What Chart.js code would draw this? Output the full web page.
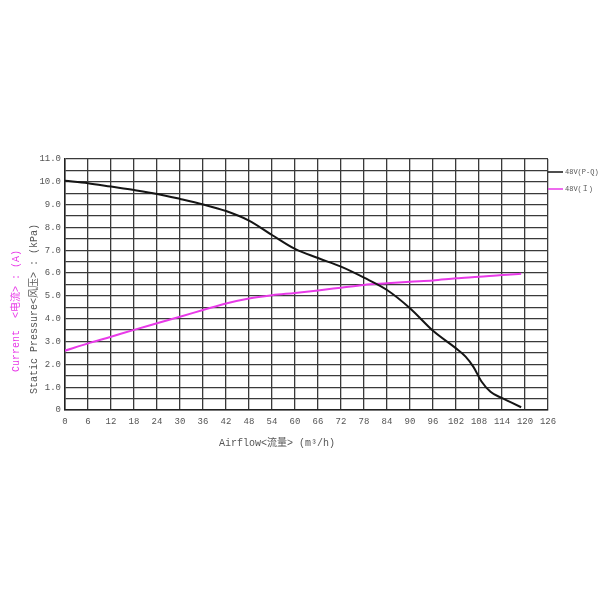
<!DOCTYPE html>
<html>
<head>
<meta charset="utf-8">
<script src="https://cdn.jsdelivr.net/npm/chart.js@4.4.1/dist/chart.umd.min.js"></script>
<style>
html,body{margin:0;padding:0;background:#fff;}
#wrap{width:600px;height:600px;}
</style>
</head>
<body>
<div id="wrap"><canvas id="c" width="600" height="600"></canvas></div>
<script>
// ---- data ----
const pqAirflow = [0, 6, 12, 18, 24, 30, 36, 42, 48, 54, 60, 66, 72, 78, 84, 90, 96, 102, 104.5, 106.5, 108.7, 111, 113.5, 116.5, 119];
const pqPressure = [10.05, 9.94, 9.79, 9.64, 9.47, 9.25, 9.01, 8.72, 8.30, 7.67, 7.06, 6.66, 6.28, 5.80, 5.26, 4.46, 3.47, 2.70, 2.34, 1.90, 1.24, 0.80, 0.56, 0.32, 0.12];
const iAirflow = [0, 6, 12, 18, 24, 30, 36, 42, 48, 54, 60, 66, 72, 78, 84, 90, 96, 102, 108, 114, 119];
const iCurrent = [2.60, 2.92, 3.21, 3.51, 3.80, 4.09, 4.38, 4.67, 4.89, 5.03, 5.13, 5.24, 5.36, 5.48, 5.55, 5.62, 5.68, 5.77, 5.84, 5.92, 5.97];
const seriesLabels = ['48V(P-Q)', '48V(Ｉ)'];
const xTitle = 'Airflow<流量> (m³/h)';
const yTitleCurrent = 'Current  <电流> : (A)';
const yTitlePressure = 'Static Pressure<风压> : (kPa)';
const xMin = 0, xMax = 126, xStep = 6;
const yMin = 0, yMax = 11, yStep = 0.5;

const FONT = "'Liberation Mono', 'Noto Sans CJK SC', monospace";
const BLACK = '#151515';
const MAGENTA = '#e83ae8';
const TEXT = '#555555';

function toPts(xs, ys){ return xs.map((x,i)=>({x:x, y:ys[i]})); }

const overlay = {
  id: 'overlay',
  afterDraw(chart){
    const ctx = chart.ctx;
    const a = chart.chartArea;
    ctx.save();
    // legend
    const ds = chart.data.datasets;
    const ly = [a.top + 13, a.top + 30];
    ctx.font = "7px " + FONT;
    ctx.textBaseline = 'middle';
    ctx.textAlign = 'left';
    ds.forEach((d, i) => {
      ctx.strokeStyle = d.borderColor;
      ctx.lineWidth = 1.5;
      ctx.beginPath();
      ctx.moveTo(a.right, ly[i]);
      ctx.lineTo(a.right + 15, ly[i]);
      ctx.stroke();
      ctx.fillStyle = TEXT;
      ctx.fillText(d.label, a.right + 17, ly[i]);
    });
    // x title
    ctx.font = "10px " + FONT;
    ctx.fillStyle = TEXT;
    ctx.textAlign = 'center';
    ctx.fillText(xTitle, 277, 443);
    // y titles
    ctx.save();
    ctx.translate(16, 311);
    ctx.rotate(-Math.PI/2);
    ctx.fillStyle = MAGENTA;
    ctx.fillText(yTitleCurrent, 0, 0);
    ctx.restore();
    ctx.save();
    ctx.translate(34, 309);
    ctx.rotate(-Math.PI/2);
    ctx.fillStyle = TEXT;
    ctx.fillText(yTitlePressure, 0, 0);
    ctx.restore();
    ctx.restore();
  }
};

new Chart(document.getElementById('c'), {
  type: 'line',
  data: {
    datasets: [
      { label: seriesLabels[0], data: toPts(pqAirflow, pqPressure), borderColor: BLACK, borderWidth: 2, pointRadius: 0, cubicInterpolationMode: 'monotone', fill: false },
      { label: seriesLabels[1], data: toPts(iAirflow, iCurrent), borderColor: MAGENTA, borderWidth: 2, pointRadius: 0, cubicInterpolationMode: 'monotone', fill: false }
    ]
  },
  options: {
    responsive: false,
    animation: false,
    events: [],
    layout: { padding: { left: 0, top: 159, right: 52, bottom: 0 } },
    plugins: { legend: { display: false }, tooltip: { enabled: false }, title: { display: false } },
    scales: {
      x: {
        type: 'linear', min: xMin, max: xMax,
        ticks: { stepSize: xStep, color: TEXT, font: { family: FONT, size: 9 }, padding: 6, maxRotation: 0, autoSkip: false },
        grid: { color: '#3a3a3a', lineWidth: 1.3, drawTicks: false },
        border: { color: '#222', width: 1.5 },
        afterFit(s){ s.height = 190; }
      },
      y: {
        type: 'linear', min: yMin, max: yMax,
        ticks: { stepSize: yStep, color: TEXT, font: { family: FONT, size: 9 }, padding: 4, autoSkip: false,
          callback(v){ if (Math.abs(v - Math.round(v)) > 1e-6) return ''; return v === 0 ? '0' : v.toFixed(1); } },
        grid: { color: '#3a3a3a', lineWidth: 1.3, drawTicks: false },
        border: { color: '#222', width: 1.5 },
        afterFit(s){ s.width = 65; }
      }
    }
  },
  plugins: [overlay]
});
</script>
</body>
</html>
